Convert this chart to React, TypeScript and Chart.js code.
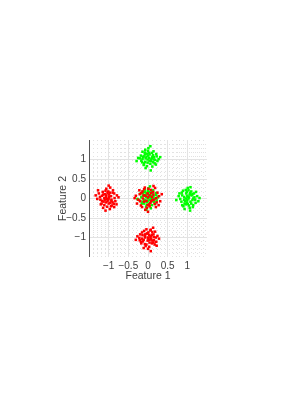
import React, { useEffect, useRef } from "react";
import { Chart, registerables } from "chart.js";

Chart.register(...registerables);

const redLeft: number[][] = [[-1.07,0.03],[-0.96,-0.11],[-1.17,0.07],[-0.90,0.15],[-1.01,-0.04],[-1.11,-0.17],[-0.85,0.01],[-1.21,-0.03],[-0.99,0.10],[-1.04,-0.21],[-0.93,-0.06],[-1.25,0.13],[-1.08,0.20],[-0.87,-0.14],[-1.0,0.0],[-1.13,-0.08],[-0.94,0.06],[-1.18,-0.13],[-0.79,0.08],[-1.06,0.25],[-0.97,-0.27],[-1.29,-0.01],[-1.10,0.11],[-0.92,-0.18],[-1.03,0.14],[-0.83,-0.07],[-1.15,0.17],[-1.0,-0.13],[-0.89,0.21],[-1.22,0.04],[-1.04,-0.01],[-0.96,0.28],[-1.14,-0.24],[-0.80,-0.15],[-1.07,-0.10],[-0.99,0.04],[-1.33,0.08],[-0.86,0.13],[-1.08,-0.31],[-1.01,0.18],[-0.93,-0.03],[-1.20,-0.15],[-1.11,0.01],[-0.75,0.03],[-1.0,0.33],[-1.17,-0.06],[-0.94,-0.20],[-1.06,0.08],[-0.90,-0.10],[-1.27,0.21],[-1.03,-0.07],[-0.97,0.15],[-1.10,-0.03],[-0.86,-0.22],[-1.14,0.10]];
const redBottom: number[][] = [[0.04,-1.06],[-0.08,-0.96],[0.14,-1.13],[-0.15,-1.03],[0.01,-0.87],[0.10,-0.93],[-0.04,-1.18],[0.20,-1.0],[-0.13,-1.10],[0.07,-0.80],[-0.20,-0.92],[0.03,-1.24],[0.15,-1.07],[-0.07,-1.0],[0.11,-0.86],[-0.01,-1.08],[0.24,-0.96],[-0.17,-1.15],[0.06,-0.99],[-0.10,-0.83],[0.0,-1.29],[0.17,-1.18],[-0.22,-1.01],[0.08,-1.04],[-0.03,-0.90],[0.13,-0.75],[-0.14,-0.94],[0.21,-1.11],[-0.06,-1.22],[0.03,-0.94],[-0.11,-1.06],[0.28,-1.03],[-0.27,-0.97],[0.10,-1.15],[-0.04,-0.79],[0.14,-0.92],[-0.18,-1.11],[0.0,-1.0],[0.07,-1.35],[-0.08,-1.17],[0.18,-0.85],[-0.01,-0.89],[0.11,-1.08],[-0.15,-0.87],[0.04,-1.13],[-0.31,-1.06],[0.22,-1.21],[-0.07,-0.92],[0.01,-1.04],[0.15,-0.99],[-0.11,-1.27],[0.06,-0.82],[-0.21,-1.07],[0.08,-0.97]];
const redCenter: number[][] = [[-0.06,0.07],[0.11,-0.04],[-0.17,0.14],[0.03,-0.15],[0.14,0.10],[-0.10,-0.08],[0.21,0.01],[-0.25,-0.03],[0.07,0.22],[-0.03,-0.24],[0.17,-0.14],[-0.14,0.18],[0.0,0.03],[0.28,0.06],[-0.21,0.11],[0.08,-0.07],[-0.08,0.28],[0.13,0.17],[-0.28,-0.13],[0.04,-0.20],[-0.13,0.0],[0.20,-0.22],[-0.01,0.13],[0.24,0.15],[-0.18,-0.18],[0.10,0.04],[-0.07,-0.29],[0.31,-0.07],[-0.31,0.07],[0.01,0.25],[0.15,-0.03],[-0.11,0.08],[0.06,-0.11],[-0.22,0.21],[0.18,0.27],[-0.04,-0.06],[0.27,-0.17],[-0.15,-0.22],[0.08,0.14],[-0.34,0.01],[0.0,-0.34],[0.14,0.32],[-0.10,0.24],[0.22,-0.10],[-0.20,-0.07],[0.04,0.08],[0.35,0.11],[-0.01,-0.17]];
const greenTop: number[][] = [[0.03,1.04],[-0.07,0.94],[0.13,1.11],[-0.14,1.01],[0.06,0.89],[0.10,1.17],[-0.04,1.07],[0.18,0.99],[-0.11,0.86],[0.0,1.22],[-0.18,1.10],[0.07,0.96],[0.15,1.06],[-0.08,1.18],[0.11,0.82],[-0.01,1.0],[0.22,1.08],[-0.15,0.93],[0.04,1.13],[-0.06,0.78],[0.01,1.29],[0.17,0.90],[-0.21,1.03],[0.08,1.0],[-0.03,1.15],[0.14,1.21],[-0.13,1.06],[0.20,0.87],[-0.07,1.25],[0.04,0.97],[-0.10,0.90],[0.27,1.01],[-0.25,1.04],[0.11,1.07],[-0.03,0.83],[0.13,0.93],[-0.17,0.97],[0.0,1.10],[0.07,0.72],[-0.08,1.13],[0.21,1.14],[-0.01,0.92],[0.10,1.03],[-0.14,1.20],[0.03,1.17],[-0.29,0.96],[0.24,0.96],[-0.06,1.03],[0.15,1.0],[-0.11,1.08],[0.06,1.34],[0.31,1.06]];
const greenRight: number[][] = [[1.04,0.03],[0.94,-0.07],[1.13,0.11],[0.87,0.08],[1.01,-0.14],[1.10,0.18],[0.92,0.04],[1.20,-0.03],[0.99,-0.10],[0.82,-0.01],[1.07,0.14],[0.96,0.22],[1.15,-0.17],[1.03,0.0],[0.86,0.15],[1.25,0.06],[1.08,-0.08],[0.90,-0.20],[1.0,0.07],[1.17,0.13],[0.78,0.06],[1.06,-0.24],[0.97,0.13],[1.13,-0.04],[0.93,-0.13],[1.22,0.17],[1.01,0.27],[0.85,-0.08],[1.10,-0.13],[0.96,0.0],[1.18,0.03],[1.04,-0.18],[0.89,0.20],[1.28,-0.07],[1.0,-0.04],[0.80,0.13],[1.11,0.08],[0.93,-0.27],[1.14,-0.22],[1.06,0.10],[0.99,0.17],[0.72,-0.04],[1.21,-0.11],[1.03,0.21],[0.92,-0.03],[1.08,0.29],[1.31,0.01],[0.96,-0.15],[1.01,0.04],[0.87,-0.17],[1.15,0.0],[1.07,-0.31]];
const greenCenter: number[][] = [[0.03,0.04],[-0.08,-0.05],[0.12,0.10],[-0.13,0.07],[0.05,-0.12],[0.09,0.16],[-0.04,0.13],[0.17,-0.01],[-0.10,-0.13],[0.0,0.20],[-0.17,0.03],[0.07,-0.04],[0.14,0.05],[-0.07,0.17],[0.10,-0.17],[-0.01,0.0],[0.21,0.09],[-0.14,-0.08],[0.04,0.09],[-0.05,-0.21],[0.01,0.26],[0.16,-0.09],[-0.20,0.12],[0.08,0.01],[-0.03,-0.09],[0.13,0.21],[-0.12,0.14],[0.18,-0.14],[-0.08,0.23],[0.04,-0.03],[-0.09,-0.03],[0.25,0.03],[-0.22,-0.04],[0.10,0.07],[-0.03,-0.16],[0.12,-0.07],[-0.16,-0.13],[0.0,0.10],[0.07,-0.25],[-0.08,0.08],[0.20,0.14],[-0.01,-0.07],[0.09,0.03],[-0.13,0.18],[0.03,0.16],[-0.27,-0.01],[0.22,-0.05],[-0.05,0.04],[0.14,0.0],[-0.10,0.08],[0.05,0.31],[-0.04,-0.29]];

const axisMin = -1.5;
const axisMax = 1.5;
const tickStep = 0.5;
const xTitle = "Feature 1";
const yTitle = "Feature 2";

const toPts = (arr: number[][]) => arr.map(([x, y]) => ({ x, y }));

const fmt = (v: number) => {
  if (Math.abs(Math.abs(v) - 1.5) < 1e-6) return "";
  const s = String(Math.round(v * 10) / 10);
  return s.replace("-", "\u2212");
};

const minorGrid = {
  id: "minorGrid",
  beforeDatasetsDraw(chart: any) {
    const { ctx, chartArea, scales } = chart;
    ctx.save();
    ctx.strokeStyle = "#e2e2e2";
    ctx.lineWidth = 1;
    ctx.setLineDash([1, 3]);
    for (let i = -15; i <= 15; i++) {
      if (i % 5 === 0) continue;
      const v = i / 10;
      const px = Math.round(scales.x.getPixelForValue(v)) + 0.5;
      ctx.beginPath();
      ctx.moveTo(px, chartArea.top);
      ctx.lineTo(px, chartArea.bottom);
      ctx.stroke();
      const py = Math.round(scales.y.getPixelForValue(v)) + 0.5;
      ctx.beginPath();
      ctx.moveTo(chartArea.left, py);
      ctx.lineTo(chartArea.right, py);
      ctx.stroke();
    }
    ctx.restore();
  },
  afterDraw(chart: any) {
    const { ctx, chartArea } = chart;
    ctx.save();
    ctx.strokeStyle = "#555555";
    ctx.lineWidth = 1;
    ctx.setLineDash([]);
    const x = Math.round(chartArea.left) + 0.5;
    ctx.beginPath();
    ctx.moveTo(x, chartArea.top);
    ctx.lineTo(x, chartArea.bottom);
    ctx.stroke();
    ctx.restore();
  },
};

const gridColor = (c: any) =>
  c.tick && Math.abs(Math.abs(c.tick.value) - 1.5) < 1e-6 ? "rgba(0,0,0,0)" : "#e3e3e3";

export default function App() {
  const ref = useRef<HTMLCanvasElement>(null);
  useEffect(() => {
    if (!ref.current) return;
    const font = { family: "'Liberation Sans', Arial, sans-serif", size: 10 };
    const chart = new Chart(ref.current, {
      type: "scatter",
      data: {
        datasets: [
          {
            label: "Class 1",
            data: [...toPts(redLeft), ...toPts(redBottom), ...toPts(redCenter)],
            backgroundColor: "#ff0000",
            pointStyle: "rect",
            pointRadius: 1.8,
            borderWidth: 0,
          },
          {
            label: "Class 2",
            data: [...toPts(greenTop), ...toPts(greenRight), ...toPts(greenCenter)],
            backgroundColor: "#00ff00",
            pointStyle: "rect",
            pointRadius: 1.8,
            borderWidth: 0,
          },
        ],
      },
      options: {
        animation: false,
        responsive: false,
        devicePixelRatio: 1,
        layout: { padding: { left: 0, right: 82, top: 140, bottom: 123 } },
        plugins: { legend: { display: false }, tooltip: { enabled: false } },
        scales: {
          x: {
            type: "linear",
            min: axisMin,
            max: axisMax,
            afterFit: (s: any) => { s.height = 30; },
            ticks: { stepSize: tickStep, callback: (v: any) => fmt(Number(v)), color: "#404040", font, padding: 3, maxRotation: 0, autoSkip: false },
            grid: { color: gridColor, drawTicks: false, lineWidth: 1 },
            border: { display: false },
            title: { display: true, text: xTitle, color: "#404040", font: { ...font, size: 10.5 }, padding: { top: 0, bottom: 5 } },
          },
          y: {
            type: "linear",
            min: axisMin,
            max: axisMax,
            afterFit: (s: any) => { s.width = 89; },
            ticks: { stepSize: tickStep, callback: (v: any) => fmt(Number(v)), color: "#404040", font, padding: 3, autoSkip: false },
            grid: { color: gridColor, drawTicks: false, lineWidth: 1 },
            border: { display: false },
            title: { display: true, text: yTitle, color: "#404040", font: { ...font, size: 10.5 }, padding: { top: 57, bottom: 0 } },
          },
        },
      },
      plugins: [minorGrid],
    });
    return () => chart.destroy();
  }, []);
  return (
    <div style={{ position: "absolute", left: 0, top: 0, width: 289, height: 410, background: "#fff" }}>
      <canvas ref={ref} width={289} height={410} style={{ display: "block", width: 289, height: 410 }} />
    </div>
  );
}
